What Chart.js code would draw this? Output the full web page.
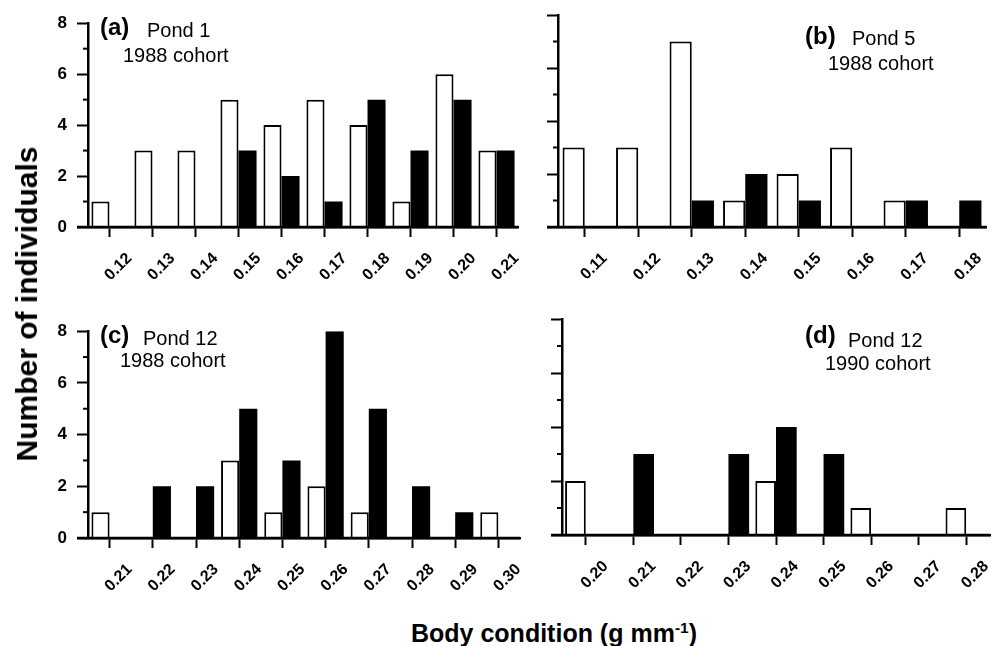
<!DOCTYPE html>
<html>
<head>
<meta charset="utf-8">
<script src="https://cdn.jsdelivr.net/npm/chart.js@4.4.1/dist/chart.umd.min.js"></script>
<style>
  html, body { margin: 0; padding: 0; background: #fff; overflow: hidden; }
  #wrap { position: relative; width: 993px; height: 646px; font-family: "Liberation Sans", Arial, sans-serif; color: #000; }
  #wrap canvas { position: absolute; }
  .lab { position: absolute; white-space: nowrap; line-height: 1; }
  .tag { font-size: 24px; font-weight: bold; }
  .pond { font-size: 20px; }
  .ytitle { font-size: 30px; font-weight: bold; transform: translate(-50%, -50%) rotate(-90deg); }
  .xtitle { font-size: 25px; font-weight: bold; transform: translateX(-50%); }
  .xtitle sup { font-size: 0.62em; vertical-align: 0.55em; line-height: 0; }
</style>
</head>
<body>
<div id="wrap">
  <canvas id="cA"></canvas>
  <canvas id="cB"></canvas>
  <canvas id="cC"></canvas>
  <canvas id="cD"></canvas>

  <div class="lab tag" style="left:100px;top:15px">(a)</div>
  <div class="lab pond" style="left:147px;top:20px">Pond 1</div>
  <div class="lab pond" style="left:123px;top:45px">1988 cohort</div>

  <div class="lab tag" style="left:805px;top:24px">(b)</div>
  <div class="lab pond" style="left:852px;top:28px">Pond 5</div>
  <div class="lab pond" style="left:828px;top:53px">1988 cohort</div>

  <div class="lab tag" style="left:100px;top:323px">(c)</div>
  <div class="lab pond" style="left:143px;top:328px">Pond 12</div>
  <div class="lab pond" style="left:120px;top:350px">1988 cohort</div>

  <div class="lab tag" style="left:805px;top:323px">(d)</div>
  <div class="lab pond" style="left:848px;top:330px">Pond 12</div>
  <div class="lab pond" style="left:825px;top:353px">1990 cohort</div>

  <div class="lab ytitle" style="left:27px;top:304px">Number of individuals</div>
  <div class="lab xtitle" style="left:554px;top:621px">Body condition (g mm<sup>-1</sup>)</div>
</div>

<script>
// panel (a) Pond 1, 1988 cohort
const catsA = ['0.12', '0.13', '0.14', '0.15', '0.16', '0.17', '0.18', '0.19', '0.20', '0.21'];
const whiteA = [1, 3, 3, 5, 4, 5, 4, 1, 6, 3];
const blackA = [0, 0, 0, 3, 2, 1, 5, 3, 5, 3];

// panel (b) Pond 5, 1988 cohort
const catsB = ['0.11', '0.12', '0.13', '0.14', '0.15', '0.16', '0.17', '0.18'];
const whiteB = [3, 3, 7, 1, 2, 3, 1, 0];
const blackB = [0, 0, 1, 2, 1, 0, 1, 1];

// panel (c) Pond 12, 1988 cohort
const catsC = ['0.21', '0.22', '0.23', '0.24', '0.25', '0.26', '0.27', '0.28', '0.29', '0.30'];
const whiteC = [1, 0, 0, 3, 1, 2, 1, 0, 0, 1];
const blackC = [0, 2, 2, 5, 3, 8, 5, 2, 1, 0];

// panel (d) Pond 12, 1990 cohort
const catsD = ['0.20', '0.21', '0.22', '0.23', '0.24', '0.25', '0.26', '0.27', '0.28'];
const whiteD = [2, 0, 0, 0, 2, 0, 1, 0, 1];
const blackD = [0, 3, 0, 3, 4, 3, 0, 0, 0];

const yMax = 8;
const minorTicks = [1, 3, 5, 7];

// y axis width / x axis height are fixed so the plot areas line up with the figure
const Y_W = 60, X_H = 62, PAD_T = 12, PAD_R = 12;
const FONT = '"Liberation Sans", Arial, sans-serif';

// baseline runs a bit left of the y axis, plus short minor ticks
const axisExtras = {
  id: 'axisExtras',
  afterDraw(chart) {
    const { ctx, chartArea, scales } = chart;
    const y = scales.y;
    ctx.save();
    ctx.strokeStyle = '#000';
    ctx.lineWidth = 2.5;
    const y0 = y.getPixelForValue(0);
    ctx.beginPath();
    ctx.moveTo(chartArea.left - 11, y0);
    ctx.lineTo(chartArea.right, y0);
    ctx.stroke();
    ctx.lineWidth = 2;
    minorTicks.forEach(v => {
      const py = y.getPixelForValue(v);
      ctx.beginPath();
      ctx.moveTo(chartArea.left - 5, py);
      ctx.lineTo(chartArea.left, py);
      ctx.stroke();
    });
    ctx.restore();
  }
};

function makePanel(id, box, cats, white, black, showY, catPct) {
  const cv = document.getElementById(id);
  const w = (box.r - box.l) + Y_W + PAD_R;
  const h = (box.b - box.t) + PAD_T + X_H;
  cv.style.left = (box.l - Y_W) + 'px';
  cv.style.top = (box.t - PAD_T) + 'px';
  cv.style.width = w + 'px';
  cv.style.height = h + 'px';
  cv.width = w;
  cv.height = h;

  return new Chart(cv.getContext('2d'), {
    type: 'bar',
    data: {
      labels: cats,
      datasets: [
        {
          data: white,
          backgroundColor: '#fff',
          borderColor: '#000',
          borderWidth: 2,
          barPercentage: 1.0,
          categoryPercentage: catPct,
        },
        {
          data: black,
          backgroundColor: '#000',
          borderColor: '#000',
          borderWidth: 0,
          barPercentage: 1.0,
          categoryPercentage: catPct,
        }
      ]
    },
    options: {
      responsive: false,
      animation: false,
      events: [],
      layout: { padding: { top: PAD_T, right: PAD_R, left: 0, bottom: 0 } },
      plugins: {
        legend: { display: false },
        tooltip: { enabled: false }
      },
      scales: {
        x: {
          type: 'category',
          offset: true,
          afterFit: s => { s.height = X_H; },
          grid: {
            offset: false,
            drawOnChartArea: false,
            tickLength: 10,
            tickWidth: 2,
            tickColor: '#000'
          },
          border: { color: '#000', width: 2.5 },
          ticks: {
            autoSkip: false,
            minRotation: 45,
            maxRotation: 45,
            labelOffset: 20,
            padding: 12,
            color: '#000',
            font: { family: FONT, size: 16, weight: 'bold' }
          }
        },
        y: {
          min: 0,
          max: yMax,
          afterFit: s => { s.width = Y_W; },
          grid: {
            drawOnChartArea: false,
            tickLength: 11,
            tickWidth: 2,
            tickColor: '#000'
          },
          border: { color: '#000', width: 2.5 },
          ticks: {
            display: showY,
            stepSize: 2,
            padding: 10,
            color: '#000',
            font: { family: FONT, size: 17, weight: 'bold' }
          }
        }
      }
    },
    plugins: [axisExtras]
  });
}

makePanel('cA', { l: 88, t: 15, r: 518, b: 227 }, catsA, whiteA, blackA, true, 0.84);
makePanel('cB', { l: 558, t: 15, r: 986, b: 227 }, catsB, whiteB, blackB, false, 0.83);
makePanel('cC', { l: 88, t: 323, r: 520, b: 538 }, catsC, whiteC, blackC, true, 0.84);
makePanel('cD', { l: 562, t: 319, r: 990, b: 535 }, catsD, whiteD, blackD, false, 0.87);
</script>
</body>
</html>
